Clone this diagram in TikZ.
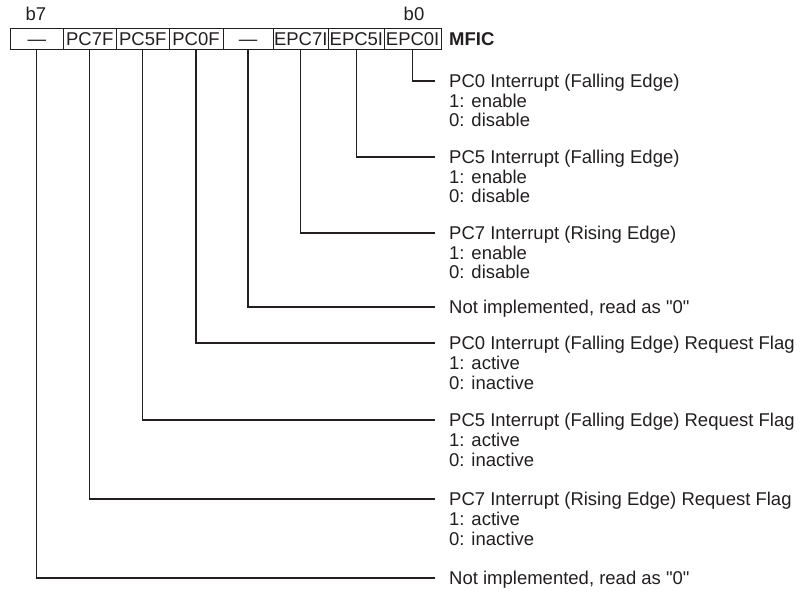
\documentclass[tikz,border=0pt]{standalone}
\usepackage{fontspec}
\setmainfont[Ligatures=TeXOff]{Liberation Sans}
\definecolor{ink}{RGB}{35,31,32}
\newcommand{\mylines}[1]{\vtop{\baselineskip=19.7pt #1}}
\begin{document}
\begin{tikzpicture}[x=1pt,y=-1pt,
  every node/.style={font=\fontsize{18.5}{19.7}\selectfont, text=ink},
  cell/.style={draw=ink, line width=0.8pt, minimum height=21pt, inner sep=0pt,
    text height=13.2pt, text depth=0pt, anchor=center},
  desc/.style={anchor=base west, inner sep=0pt},
  bitlbl/.style={anchor=base, inner sep=0pt},
  wire/.style={draw=ink, line width=1.1pt}]
\useasboundingbox (0,0) rectangle (802,593);
% register cells
\node[cell, minimum width=52.5pt] (c7) at (36.75,38.5) {—};
\node[cell, minimum width=53.5pt] (c6) at (89.75,38.5) {PC7F};
\node[cell, minimum width=52.5pt] (c5) at (142.75,38.5) {PC5F};
\node[cell, minimum width=54pt]   (c4) at (196,38.5) {PC0F};
\node[cell, minimum width=50pt]   (c3) at (248,38.5) {—};
\node[cell, minimum width=55.5pt] (c2) at (300.75,38.5) {EPC7I};
\node[cell, minimum width=55.8pt] (c1) at (356.4,38.5) {EPC5I};
\node[cell, minimum width=56.7pt] (c0) at (412.65,38.5) {EPC0I};
\node[bitlbl] (b7) at (36,21) {b7};
\node[bitlbl] (b0) at (414,21) {b0};
\node[desc, font=\fontsize{18.5}{19.7}\selectfont\bfseries] (reg) at (449,45.3) {MFIC};
% descriptions
\node[desc] (d0) at (449,87.6) {\mylines{\hbox{PC0 Interrupt (Falling Edge)}\hbox{1: enable}\hbox{0: disable}}};
\node[desc] (d1) at (449,163.6) {\mylines{\hbox{PC5 Interrupt (Falling Edge)}\hbox{1: enable}\hbox{0: disable}}};
\node[desc] (d2) at (449,239.6) {\mylines{\hbox{PC7 Interrupt (Rising Edge)}\hbox{1: enable}\hbox{0: disable}}};
\node[desc] (d3) at (449,313.6) {Not implemented, read as "0"};
\node[desc] (d4) at (449,349.6) {\mylines{\hbox{PC0 Interrupt (Falling Edge) Request Flag}\hbox{1: active}\hbox{0: inactive}}};
\node[desc] (d5) at (449,426.6) {\mylines{\hbox{PC5 Interrupt (Falling Edge) Request Flag}\hbox{1: active}\hbox{0: inactive}}};
\node[desc] (d6) at (449,505.6) {\mylines{\hbox{PC7 Interrupt (Rising Edge) Request Flag}\hbox{1: active}\hbox{0: inactive}}};
\node[desc] (d7) at (449,584.6) {Not implemented, read as "0"};
% connector ends
\coordinate (e0) at (435,81);
\coordinate (e1) at (435,157);
\coordinate (e2) at (435,233);
\coordinate (e3) at (435,307);
\coordinate (e4) at (435,343);
\coordinate (e5) at (435,420);
\coordinate (e6) at (435,499);
\coordinate (e7) at (435,578);
\draw[wire] (c0.south) |- (e0);
\draw[wire] (c1.south) |- (e1);
\draw[wire] (c2.south) |- (e2);
\draw[wire] (c3.south) |- (e3);
\draw[wire] (c4.south) |- (e4);
\draw[wire] (c5.south) |- (e5);
\draw[wire] (c6.south) |- (e6);
\draw[wire] (c7.south) |- (e7);
\end{tikzpicture}
\end{document}
